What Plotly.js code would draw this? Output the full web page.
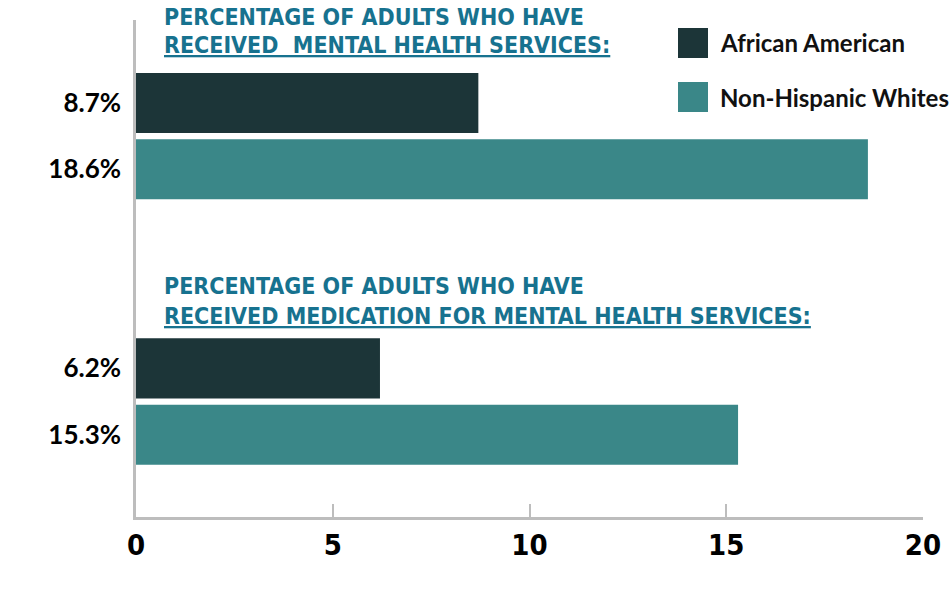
<!DOCTYPE html>
<html>
<head>
<meta charset="utf-8">
<script src="https://cdn.plot.ly/plotly-3.0.1.min.js"></script>
<style>html,body{margin:0;padding:0;background:#fff;}#chart{width:950px;height:612px;}</style>
</head>
<body>
<div id="chart"></div>
<script>
// ---- data ----
const seriesNames = ["African American", "Non-Hispanic Whites"];
const africanAmerican = [8.7, 6.2];
const nonHispanicWhites = [18.6, 15.3];
const groupTitleLine1 = ["PERCENTAGE OF ADULTS WHO HAVE", "PERCENTAGE OF ADULTS WHO HAVE"];
const groupTitleLine2 = ["RECEIVED&nbsp; MENTAL HEALTH SERVICES:", "RECEIVED MEDICATION FOR MENTAL HEALTH SERVICES:"];
const xTickVals = [0, 5, 10, 15, 20];
const spacerCats = [" ", "  "];

// ---- styles ----
const colAA = "#1c3538";
const colNHW = "#3a8788";
const titleCol = "#17728f";
const narrow = "DejaVu Sans Condensed, sans-serif";
const geo = "Lato, Noto Sans, sans-serif";

const fmt = v => v.toFixed(1) + "%";
const aaCats = africanAmerican.map(fmt);
const nhwCats = nonHispanicWhites.map(fmt);
const catOrder = [aaCats[0], nhwCats[0], spacerCats[0], spacerCats[1], aaCats[1], nhwCats[1]];

const traces = [
  {type: "bar", orientation: "h", name: seriesNames[0], x: africanAmerican, y: aaCats,
   marker: {color: colAA}, width: 0.905, hoverinfo: "x+name"},
  {type: "bar", orientation: "h", name: seriesNames[1], x: nonHispanicWhites, y: nhwCats,
   marker: {color: colNHW}, width: 0.905, hoverinfo: "x+name"},
  {type: "bar", orientation: "h", x: spacerCats.map(() => 0), y: spacerCats,
   marker: {color: "rgba(0,0,0,0)"}, showlegend: false, hoverinfo: "skip"}
];

// plot area in pixels: left 136, right 923, top 20, bottom 517
const L = 136, R = 923, T = 20, B = 517;
const px = p => (p - L) / (R - L);
const py = p => (B - p) / (B - T);

const titleY = [[17.5, 45], [286, 316]];
const titleFont = {family: narrow, size: 23, color: titleCol, weight: 700};
const annotations = [];
for (let i = 0; i < groupTitleLine1.length; i++) {
  annotations.push({xref: "paper", yref: "paper", x: px(162), y: py(titleY[i][0]), xanchor: "left", yanchor: "middle",
    text: groupTitleLine1[i], showarrow: false,
    font: Object.assign({}, titleFont)});
  annotations.push({xref: "paper", yref: "paper", x: px(162), y: py(titleY[i][1]), xanchor: "left", yanchor: "middle",
    text: groupTitleLine2[i], showarrow: false,
    font: Object.assign({lineposition: "under"}, titleFont)});
}
// custom legend
const legCols = [colAA, colNHW];
const legY = [43, 97];
const shapes = [];
for (let i = 0; i < seriesNames.length; i++) {
  shapes.push({type: "rect", xref: "paper", yref: "paper", x0: px(678), x1: px(708),
    y0: py(legY[i] - 15), y1: py(legY[i] + 15), fillcolor: legCols[i], line: {width: 0}});
  annotations.push({xref: "paper", yref: "paper", x: px(718), y: py(legY[i]), xanchor: "left", yanchor: "middle",
    text: "<b>" + seriesNames[i] + "</b>", showarrow: false,
    font: {family: geo, size: 24, color: "#111"}});
}

const layout = {
  width: 950, height: 612,
  margin: {l: L, r: 950 - R, t: T, b: 612 - B, pad: 0},
  paper_bgcolor: "#fff", plot_bgcolor: "#fff",
  barmode: "overlay",
  showlegend: false,
  xaxis: {range: [0, 20], tickvals: xTickVals, ticks: "inside", ticklen: 13, tickwidth: 2, tickcolor: "#bdbdbd",
    showline: true, linecolor: "#bdbdbd", linewidth: 2.5, showgrid: false, zeroline: false,
    tickfont: {family: narrow, size: 29, color: "#000", weight: "bold"}, ticklabelstandoff: 0},
  yaxis: {type: "category", categoryorder: "array", categoryarray: catOrder, range: [6.24, -1.25],
    showline: true, linecolor: "#bdbdbd", linewidth: 2.5, showgrid: false, zeroline: false, ticks: "",
    tickfont: {family: geo, size: 26, color: "#000", weight: "bold"}, ticklabelstandoff: 7},
  annotations: annotations,
  shapes: shapes
};

Plotly.newPlot("chart", traces, layout, {displayModeBar: false, responsive: false});
</script>
</body>
</html>
